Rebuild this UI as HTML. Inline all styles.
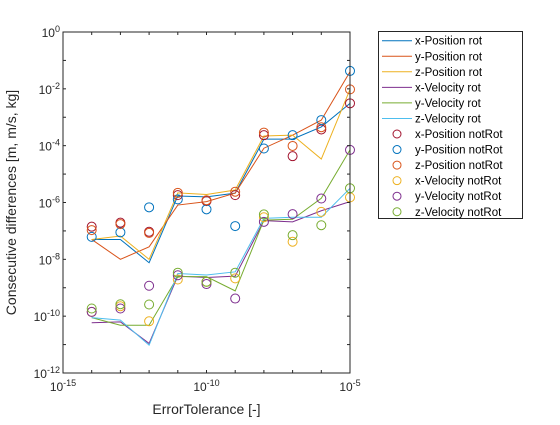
<!DOCTYPE html>
<html><head><meta charset="utf-8"><style>
body{margin:0;background:#fff;}
svg{font-family:"Liberation Sans",sans-serif;}
</style></head><body>
<svg id="chart" width="560" height="420" xmlns="http://www.w3.org/2000/svg">
<rect x="0" y="0" width="560" height="420" fill="#fff"/>
<g id="plot"></g>
<g id="axes"></g>
<g id="legend"></g>
</svg>
<script>
const xExp = [-14,-13,-12,-11,-10,-9,-8,-7,-6,-5];
const seriesNames = ["x-Position rot","y-Position rot","z-Position rot","x-Velocity rot","y-Velocity rot","z-Velocity rot","x-Position notRot","y-Position notRot","z-Position notRot","x-Velocity notRot","y-Velocity notRot","z-Velocity notRot"];
const xPosRot = [-7.30,-7.30,-8.12,-5.77,-5.80,-5.67,-3.77,-3.77,-3.34,-2.51];
const yPosRot = [-7.30,-8.00,-7.56,-6.09,-5.97,-5.67,-4.09,-3.63,-3.10,-1.40];
const zPosRot = [-7.30,-7.18,-8.00,-5.66,-5.72,-5.56,-3.66,-3.63,-4.47,-2.02];
const xVelRot = [-10.23,-10.20,-10.96,-8.59,-8.64,-8.59,-6.64,-6.68,-6.29,-5.97];
const yVelRot = [-10.05,-10.32,-10.32,-8.61,-8.61,-9.11,-6.62,-6.59,-5.85,-4.15];
const zVelRot = [-10.05,-10.14,-11.02,-8.50,-8.55,-8.44,-6.56,-6.52,-6.52,-5.50];
const xPosNot = [-6.85,-6.71,-7.03,-5.74,-5.95,-5.74,-3.63,-4.37,-3.43,-2.51];
const yPosNot = [-7.21,-7.05,-6.17,-5.89,-6.24,-6.83,-4.10,-3.63,-3.10,-1.37];
const zPosNot = [-6.97,-6.76,-7.07,-5.66,-5.92,-5.62,-3.54,-4.01,-3.35,-2.02];
const xVelNot = [-9.85,-9.65,-10.18,-8.71,-8.79,-8.67,-6.52,-7.38,-6.33,-5.82];
const yVelNot = [-9.85,-9.73,-8.93,-8.56,-8.87,-9.38,-6.68,-6.41,-5.86,-4.15];
const zVelNot = [-9.73,-9.58,-9.59,-8.47,-8.79,-8.47,-6.42,-7.15,-6.80,-5.50];
const xTickExp = [-15,-10,-5];
const yTickExp = [0,-2,-4,-6,-8,-10,-12];

const L=63,R=350,T=32,B=373;
const xMin=-15,xMax=-5,yMin=-12,yMax=0;
const sx=e=>L+(e-xMin)/(xMax-xMin)*(R-L);
const sy=e=>B-(e-yMin)/(yMax-yMin)*(B-T);
const NS="http://www.w3.org/2000/svg";
function mk(tag,attrs,parent){const el=document.createElementNS(NS,tag);for(const k in attrs)el.setAttribute(k,attrs[k]);parent.appendChild(el);return el;}
const plot=document.getElementById('plot'),axes=document.getElementById('axes'),leg=document.getElementById('legend');

const lineSeries=[[xPosRot,"#0072BD"],[yPosRot,"#D95319"],[zPosRot,"#EDB120"],[xVelRot,"#7E2F8E"],[yVelRot,"#77AC30"],[zVelRot,"#4DBEEE"]];
const circSeries=[[xPosNot,"#A2142F"],[yPosNot,"#0072BD"],[zPosNot,"#D95319"],[xVelNot,"#EDB120"],[yVelNot,"#7E2F8E"],[zVelNot,"#77AC30"]];
lineSeries.forEach((s,i)=>{
  const p=mk('polyline',{points:s[0].map((v,j)=>sx(xExp[j])+','+sy(v)).join(' '),fill:'none',stroke:s[1],'stroke-width':1},plot);
  
  
});
circSeries.forEach((s,i)=>{
  s[0].forEach((v,j)=>{
    const c=mk('circle',{cx:sx(xExp[j]),cy:sy(v),r:4.5,fill:'none',stroke:s[1],'stroke-width':1},plot);
    
    
  });
});

const box=mk('rect',{x:L,y:T,width:R-L,height:B-T,fill:'none',stroke:'#262626','stroke-width':1},axes);


for(let e=xMin;e<=xMax;e++){
  const x=sx(e);
  mk('line',{x1:x,y1:B,x2:x,y2:B-3,stroke:'#262626'},axes);
  mk('line',{x1:x,y1:T,x2:x,y2:T+3,stroke:'#262626'},axes);
}
xTickExp.forEach(e=>{
  const t=mk('text',{x:sx(e),y:B+18,'text-anchor':'middle','font-size':12,fill:'#262626'},axes);
  t.innerHTML='10<tspan dy="-5" font-size="9">'+e+'</tspan>';
  
  
});
for(let e=yMin;e<=yMax;e++){
  const y=sy(e);
  mk('line',{x1:L,y1:y,x2:L+3,y2:y,stroke:'#262626'},axes);
  mk('line',{x1:R,y1:y,x2:R-3,y2:y,stroke:'#262626'},axes);
}
yTickExp.forEach(e=>{
  const t=mk('text',{x:L-3,y:sy(e)+5,'text-anchor':'end','font-size':12,fill:'#262626'},axes);
  t.innerHTML='10<tspan dy="-5" font-size="9">'+e+'</tspan>';
  
  
});
const xl=mk('text',{x:(L+R)/2,y:414,'text-anchor':'middle','font-size':14,fill:'#262626'},axes);
xl.textContent='ErrorTolerance [-]';


const yl=mk('text',{x:0,y:0,'text-anchor':'middle','font-size':14,fill:'#262626',transform:'translate(16,'+((T+B)/2)+') rotate(-90)'},axes);
yl.textContent='Consecutive differences [m, m/s, kg]';



const lb=mk('rect',{x:378.5,y:31.5,width:144,height:187,fill:'#fff',stroke:'#262626','stroke-width':1},leg);


seriesNames.forEach((n,i)=>{
  const y=40.7+i*15.55;
  const g=mk('g',{},leg);
  
  
  if(i<6){mk('line',{x1:382,y1:y,x2:412,y2:y,stroke:lineSeries[i][1],'stroke-width':1},g);}
  else{mk('circle',{cx:397,cy:y,r:4,fill:'none',stroke:circSeries[i-6][1]},g);}
  const t=mk('text',{x:415,y:y+4,'font-size':11.5,fill:'#000'},g);
  t.textContent=n;
});
</script>
</body></html>
